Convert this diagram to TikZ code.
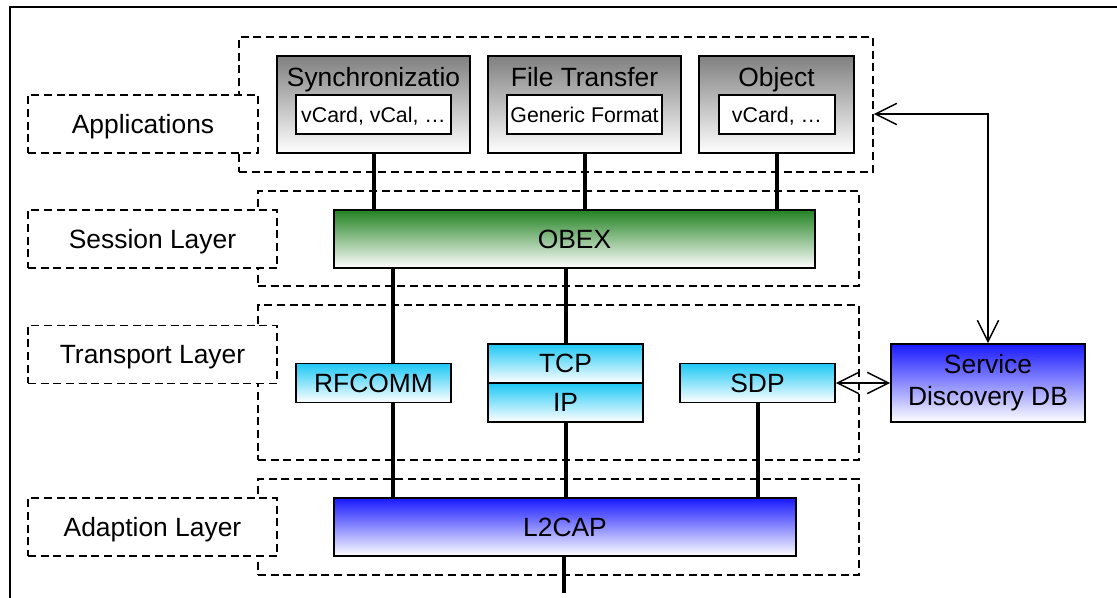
\documentclass[tikz,border=0pt]{standalone}
\usepackage{fontspec}
\setmainfont{Liberation Sans}
\usepackage{tikz}
\usetikzlibrary{arrows.meta,positioning,fit}
\definecolor{appgray}{RGB}{128,128,128}
\definecolor{obexgreen}{RGB}{34,130,34}
\definecolor{protocyan}{RGB}{30,200,245}
\definecolor{lowblue}{RGB}{25,25,255}

\begin{document}
\begin{tikzpicture}[x=0.75pt, y=-0.75pt, >={Straight Barb[length=16pt,width=16pt]},
    region/.style={draw, dash pattern=on 6pt off 3.5pt, line width=1.3pt, inner sep=0pt},
    layer/.style={region, fill=white, minimum height=43.5pt, font=\fontsize{19.8}{24}\selectfont, text height=14.2pt, text depth=0pt},
    blk/.style={draw, line width=1.2pt, inner sep=0pt, font=\fontsize{19.8}{24}\selectfont, text height=14.2pt, text depth=0pt},
    appbox/.style={blk, top color=appgray, bottom color=white},
    title/.style={inner sep=0pt, anchor=base, font=\fontsize{19.8}{24}\selectfont},
    fmtbox/.style={draw, line width=1.1pt, fill=white, inner sep=0pt, minimum height=29.25pt, font=\fontsize{16}{19}\selectfont, text height=11.5pt, text depth=0pt},
    obexbox/.style={blk, top color=obexgreen, bottom color=white},
    protobox/.style={blk, top color=protocyan, bottom color=white, minimum width=116.25pt, minimum height=29pt},
    lowbox/.style={blk, top color=lowblue, bottom color=white},
    conn/.style={line width=3pt},
    link/.style={<->, line width=1.1pt}]
    \useasboundingbox (0,0) rectangle (1117,598);
    \draw[line width=1.5pt] (10,598) -- (10,7) -- (1117,7);

    % layers
    \node[region, fit={(239,37) (873,172)}] (appsreg) {};
    \node[region, fit={(258,191) (859,286)}] (sessreg) {};
    \node[region, fit={(258,305) (859,460)}] (transreg) {};
    \node[region, fit={(258,479) (859,575)}] (adaptreg) {};
    \node[layer, minimum width=172.5pt] (applbl) at (143,124) {Applications};
    \node[layer, minimum width=186.75pt] (sesslbl) at (152.5,239) {Session Layer};
    \node[layer, minimum width=186.75pt] (translbl) at (152.5,354.5) {Transport Layer};
    \node[layer, minimum width=186.75pt] (adaptlbl) at (152.5,527) {Adaption Layer};

    % applications
    \node[appbox, fit={(277,56) (470,153)}] (sync) {};
    \node[appbox, fit={(488,56) (681,153)}] (file) {};
    \node[appbox, fit={(699,56) (854,153)}] (obj) {};
    \node[title] (synctitle) at (373.5,87) {Synchronizatio};
    \node[title] (filetitle) at (584.5,87) {File Transfer};
    \node[title] (objtitle) at (776.5,87) {Object};
    \node[fmtbox, minimum width=116.25pt] (syncfmt) at (373.5,114.5) {vCard, vCal, …};
    \node[fmtbox, minimum width=116.25pt] (filefmt) at (584.5,114.5) {Generic Format};
    \node[fmtbox, minimum width=87pt] (objfmt) at (777,114.5) {vCard, …};

    % protocols
    \node[obexbox, minimum width=360.75pt, minimum height=43.5pt] (obex) at (574.5,239) {OBEX};
    \node[protobox] (rfcomm) at (373.5,383) {RFCOMM};
    \node[protobox] (tcp) at (565.5,363.5) {TCP};
    \node[protobox] (ip) at (565.5,402.5) {IP};
    \node[protobox] (sdp) at (757.5,383) {SDP};
    \node[lowbox, minimum width=346.5pt, minimum height=43.5pt] (l2cap) at (565,527) {L2CAP};
    \node[lowbox, align=center, minimum width=145.5pt, minimum height=58.5pt, text height=, text depth=] (sddb) at (988,383) {Service\\Discovery DB};

    \draw[conn] (sync.south) -- (sync.south |- obex.north);
    \draw[conn] (file.south) -- (file.south |- obex.north);
    \draw[conn] (obj.south) -- (obj.south |- obex.north);
    \coordinate (rfx) at (393,0);
    \draw[conn] (rfx |- obex.south) -- (rfx |- rfcomm.north);
    \draw[conn] (rfx |- rfcomm.south) -- (rfx |- l2cap.north);
    \draw[conn] (obex.south -| tcp.north) -- (tcp.north);
    \draw[conn] (ip.south) -- (ip.south |- l2cap.north);
    \draw[conn] (sdp.south) -- (sdp.south |- l2cap.north);
    \coordinate (busend) at (564,593);
    \draw[conn] (l2cap.south -| busend) -- (busend);

    \draw[link] (sddb.north) |- ([yshift=-7.1pt]appsreg.east);
    \draw[link] (sdp.east) -- (sddb.west);
\end{tikzpicture}
\end{document}
